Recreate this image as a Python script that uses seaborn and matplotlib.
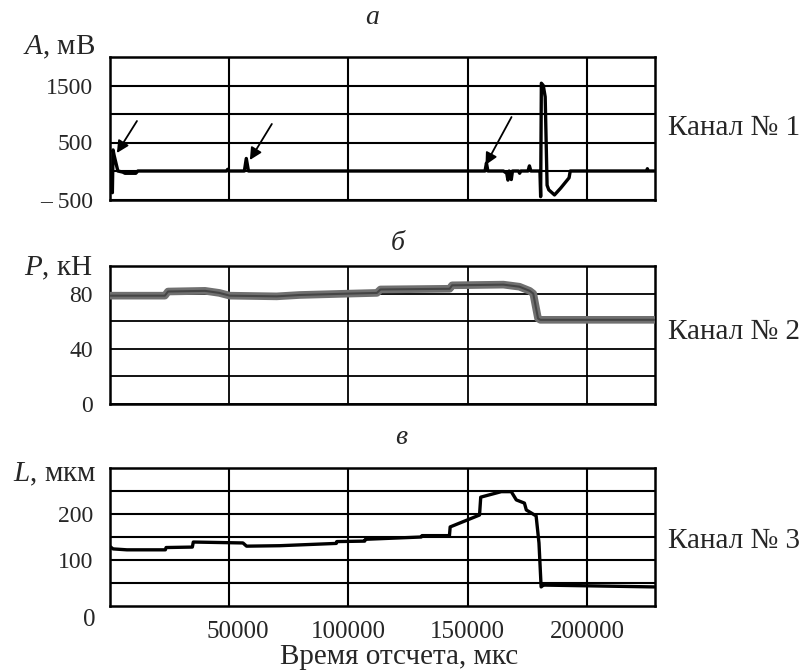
import matplotlib
matplotlib.use("Agg")
import matplotlib.pyplot as plt
import matplotlib.transforms as mtransforms
import seaborn as sns
import pandas as pd

# ---------------- data ----------------
# Channel 1: acoustic signal A, mV
a_time = [0, 900, 1200, 1500, 1900, 3500, 5600, 6500, 11000, 11900, 30000, 49000,
          49500, 50000, 56500, 57300, 58200, 80000, 120000, 150000, 157300, 157900,
          158500, 165000, 166400, 166900, 167400, 167900, 168300, 168800, 171300,
          171800, 172300, 175300, 175900, 176500, 180300, 180600, 180900, 181700,
          182500, 183300, 184000, 186400, 189000, 192500, 193000, 210000, 225000,
          225300, 225700, 228200]
a_val = [0, 0, -380, 370, 280, 0, -20, -40, -40, 0, 0, 0,
         30, 0, 0, 220, 0, 0, 0, 0, 0, 140,
         0, 0, -40, -160, 0, -50, -150, 0, 0,
         -40, 0, 0, 90, 0, 0, -450, 1540, 1500,
         1300, -250, -330, -420, -300, -120, 0, 0, 0,
         40, 0, 0]

# Channel 2: load P, kN
p_time = [0, 23200, 24500, 40000, 46000, 50400, 70000, 79700, 100600, 112000,
          113500, 142500, 143500, 165000, 171700, 176000, 177500, 179500, 180500, 228200]
p_val = [78.5, 78.5, 81.5, 82, 80.5, 78.5, 78, 79, 80, 80.5,
         83, 83.5, 86, 86.5, 85, 82, 80, 62, 61, 61]

# Channel 3: displacement L, um
c_time = [0, 1500, 7300, 23400, 23700, 34700, 35100, 55900, 57400, 71300, 95000,
          95200, 106900, 107200, 130600, 130900, 142400, 142700, 155000, 155500,
          164100, 168300, 170400, 173800, 174600, 178700, 179900, 180800, 181500,
          182200, 228200]
c_val = [130, 124, 122, 122, 127, 128, 139, 137, 130, 131, 136,
         140, 141, 145, 150, 153, 153, 172, 198, 237,
         249, 249, 231, 224, 209, 196, 137, 41, 44,
         45, 41]

# arrows in channel 1 (tip, tail)
arrow_tips = [(3100, 316), (58800, 193), (157500, 105)]
arrow_tails = [(11500, 877), (68000, 825), (168400, 947)]

x_grid = [50000, 100000, 150000, 200000]
x_ticklabels = ["50000", "100000", "150000", "200000"]
a_grid = [-500, 0, 500, 1000, 1500]
a_labels = {1500: "1500", 500: "500", -500: "– 500"}
p_grid = [0, 20, 40, 60, 80]
p_labels = {80: "80", 40: "40", 0: "0"}
c_grid = [50, 100, 150, 200, 250]
c_labels = {200: "200", 100: "100"}

# ---------------- style ----------------
sns.set_style("white")
plt.rcParams['font.family'] = ['Liberation Serif', 'DejaVu Serif']
plt.rcParams['mathtext.fontset'] = 'custom'
plt.rcParams['mathtext.rm'] = 'Liberation Serif'
plt.rcParams['mathtext.it'] = 'Liberation Serif:italic'

W, H = 806, 671
fig = plt.figure(figsize=(W / 100, H / 100), dpi=100)

def rect(left, top, right, bottom):
    return [left / W, 1 - bottom / H, (right - left) / W, (bottom - top) / H]

ax_a = fig.add_axes(rect(109.5, 57, 655, 199.5))
ax_p = fig.add_axes(rect(109.5, 266, 655, 404))
ax_c = fig.add_axes(rect(109.5, 468.3, 655, 605.7))

XMAX = 228500
FS_Y = 17
FS_X = 18
FS_LAB = 21

def style_axes(ax, ylim, grid, labels, glw=1.5):
    ax.set_xlim(0, XMAX)
    ax.set_ylim(*ylim)
    for g in x_grid:
        ax.axvline(g, color="black", lw=glw, zorder=1)
    for g in grid:
        ax.axhline(g, color="black", lw=glw, zorder=1)
    ax.set_yticks(list(labels.keys()))
    ax.set_yticklabels(list(labels.values()))
    ax.set_xticks([])
    ax.tick_params(axis="y", length=0, pad=12, labelsize=FS_Y)
    for s in ax.spines.values():
        s.set_visible(True)
        s.set_color("black")
        s.set_linewidth(1.8)
    ax.set_xlabel("")
    ax.set_ylabel("")

# Channel 1
df_a = pd.DataFrame({"t": a_time, "A": a_val})
sns.lineplot(data=df_a, x="t", y="A", ax=ax_a, color="black", lw=2.4,
             estimator=None, sort=False, zorder=3)
style_axes(ax_a, (-500, 2000), a_grid, a_labels)
for tip, tail in zip(arrow_tips, arrow_tails):
    ax_a.annotate("", xy=tip, xytext=tail,
                  arrowprops=dict(arrowstyle="-|>", color="black", lw=1.3,
                                  mutation_scale=18, shrinkA=0, shrinkB=0))

# Channel 2
df_p = pd.DataFrame({"t": p_time, "P": p_val})
sns.lineplot(data=df_p, x="t", y="P", ax=ax_p, color="#707070", lw=5.5,
             estimator=None, sort=False, zorder=3)
sns.lineplot(data=df_p, x="t", y="P", ax=ax_p, color="#454545", lw=1.5,
             estimator=None, sort=False, zorder=4)
style_axes(ax_p, (0, 100), p_grid, p_labels, glw=1.3)

# Channel 3
df_c = pd.DataFrame({"t": c_time, "L": c_val})
sns.lineplot(data=df_c, x="t", y="L", ax=ax_c, color="black", lw=2.4,
             estimator=None, sort=False, zorder=3)
style_axes(ax_c, (0, 300), c_grid, c_labels)
ax_c.set_xticks(x_grid)
ax_c.set_xticklabels(x_ticklabels)
ax_c.tick_params(axis="x", length=0, pad=11, labelsize=FS_X)
lbl0 = ax_c.get_xticklabels()[0]
lbl0.set_transform(lbl0.get_transform() +
                   mtransforms.ScaledTranslation(9 / 100, 0, fig.dpi_scale_trans))

# ---------------- texts ----------------
def ftext(x, y, s, **kw):
    fig.text(x / W, 1 - y / H, s, **kw)

ftext(95, 620, "0", ha="right", va="center", fontsize=FS_X)
ftext(399, 657, "Время отсчета, мкс", ha="center", va="center", fontsize=21)

ftext(372, 17, "а", ha="center", va="center", fontsize=20, style="italic")
ftext(398, 244, "б", ha="center", va="center", fontsize=20, style="italic")
ftext(401, 437, "в", ha="center", va="center", fontsize=20, style="italic")

ftext(95, 47, r"$A$, мВ", ha="right", va="center", fontsize=FS_LAB)
ftext(93, 268, r"$P$, кН", ha="right", va="center", fontsize=FS_LAB)
ftext(96, 474, r"$L$, мкм", ha="right", va="center", fontsize=FS_LAB)

ftext(668, 128, "Канал № 1", ha="left", va="center", fontsize=21)
ftext(668, 332, "Канал № 2", ha="left", va="center", fontsize=21)
ftext(668, 541, "Канал № 3", ha="left", va="center", fontsize=21)

fig.savefig("out.png", dpi=100)
